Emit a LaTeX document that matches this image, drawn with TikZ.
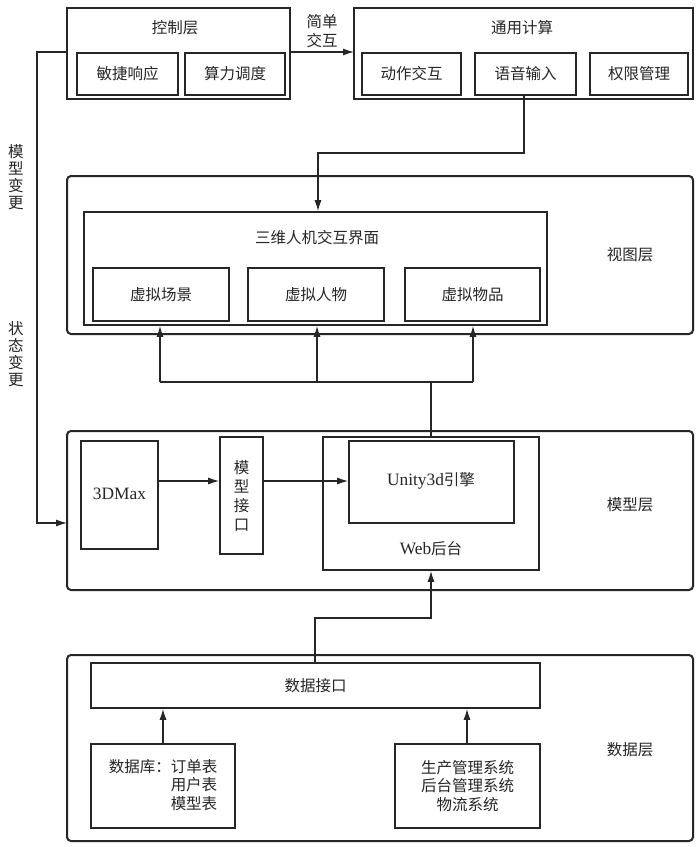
\documentclass[tikz,border=0pt]{standalone}
\usepackage{fontspec}
\setmainfont{Noto Sans CJK SC}
\newfontfamily\lat[Scale=1.12]{Liberation Serif}
\usetikzlibrary{arrows.meta}
\definecolor{ink}{HTML}{262626}
\begin{document}
\begin{tikzpicture}[x=1pt,y=-1pt,
  layer/.style={draw=ink, line width=2pt, rounded corners=4pt, inner sep=0pt},
  outer/.style={draw=ink, line width=2pt, inner sep=0pt},
  box/.style={draw=ink, line width=1.7pt, inner sep=0pt, align=center, text=ink},
  txt/.style={inner sep=0pt, align=center, text=ink},
  conn/.style={draw=ink, line width=1.2pt, -{Latex[length=11pt,width=7pt]}},
  plain/.style={draw=ink, line width=1.2pt},
  font=\fontsize{15.5}{18.5}\selectfont]
\useasboundingbox (0,0) rectangle (700,847);
\fill[white] (0,0) rectangle (700,847);

% ---------- top row ----------
\node[outer, minimum width=223pt, minimum height=91pt] (ctrl) at (178.5,53.5) {};
\node[txt] (ctrlT) at (175,28) {控制层};
\node[box, minimum width=101pt, minimum height=42pt] (mj) at (127.5,74) {敏捷响应};
\node[box, minimum width=100pt, minimum height=42pt] (sl) at (235,74) {算力调度};

\node[outer, minimum width=339pt, minimum height=91pt] (gen) at (523.5,53.5) {};
\node[txt] (genT) at (522,28) {通用计算};
\node[box, minimum width=99pt, minimum height=42pt] (dz) at (411.5,74) {动作交互};
\node[box, minimum width=101pt, minimum height=42pt] (yy) at (525.5,74) {语音输入};
\node[box, minimum width=98pt, minimum height=42pt] (qx) at (639,74) {权限管理};

\node[txt] (jd) at (322,31) {简单\\交互};

% ---------- left labels ----------
\node[txt, font=\fontsize{15.5}{17}\selectfont] (mxbg) at (16,177) {模\\型\\变\\更};
\node[txt, font=\fontsize{15.5}{17}\selectfont] (ztbg) at (16,354) {状\\态\\变\\更};

% ---------- view layer ----------
\node[layer, minimum width=626pt, minimum height=158pt] (view) at (380,255) {};
\node[txt] (viewT) at (630,255) {视图层};
\node[box, minimum width=463pt, minimum height=113pt] (sw) at (315.5,268.5) {};
\node[txt] (swT) at (317,238) {三维人机交互界面};
\node[box, minimum width=136pt, minimum height=53pt] (xc) at (161,294.5) {虚拟场景};
\node[box, minimum width=136pt, minimum height=53pt] (xr) at (316,294.5) {虚拟人物};
\node[box, minimum width=135pt, minimum height=53pt] (xw) at (472.5,294.5) {虚拟物品};

% ---------- model layer ----------
\node[layer, minimum width=626pt, minimum height=159pt] (model) at (380,510.5) {};
\node[txt] (modelT) at (630,505) {模型层};
\node[box, minimum width=77pt, minimum height=108pt] (max) at (119.5,495) {};
\node[txt] (maxT) at (119.5,494) {\lat 3DMax};
\node[box, minimum width=43pt, minimum height=117pt, font=\fontsize{15.5}{19}\selectfont] (mi) at (241.5,495.5) {模\\型\\接\\口};
\node[box, minimum width=216pt, minimum height=133pt] (web) at (431,503.5) {};
\node[txt] (webT) at (431,549) {{\lat Web}后台};
\node[box, minimum width=165pt, minimum height=82pt] (unity) at (431.5,482) {};
\node[txt] (unityT) at (431,481) {{\lat Unity3d}引擎};

% ---------- data layer ----------
\node[layer, minimum width=626pt, minimum height=186pt] (data) at (380,748) {};
\node[txt] (dataT) at (630,750) {数据层};
\node[box, minimum width=449pt, minimum height=45pt] (di) at (315.5,685.5) {数据接口};
\node[box, minimum width=144pt, minimum height=84pt] (db) at (163,786) {};
\node[txt, align=left] (dbT) at (163,785) {数据库：订单表\\\hphantom{数据库：}用户表\\\hphantom{数据库：}模型表};
\node[box, minimum width=145pt, minimum height=84pt] (sys) at (467.5,786) {生产管理系统\\后台管理系统\\物流系统};

% ---------- connectors ----------
\coordinate (c1) at (290,52);
\coordinate (c2) at (354,52);
\draw[conn] (c1) -- (c2);

\coordinate (l1) at (67,52);
\coordinate (l2) at (37,52);
\coordinate (l3) at (37,523);
\coordinate (l4) at (67,523);
\draw[conn] (l1) -- (l2) -- (l3) -- (l4);

\coordinate (y1) at (524,153);
\coordinate (y2) at (318,153);
\draw[conn] (yy.south -| y1) -- (y1) -- (y2) -- (y2 |- sw.north);

\coordinate (h1) at (160,382);
\coordinate (h2) at (317,382);
\coordinate (h3) at (473,382);
\coordinate (hv) at (431,382);
\draw[plain] (h1) -- (h3);
\draw[plain] (hv) -- (hv |- web.north);
\draw[conn] (h1) -- (h1 |- sw.south);
\draw[conn] (h2) -- (h2 |- sw.south);
\draw[conn] (h3) -- (h3 |- sw.south);

\coordinate (m1) at (158,481);
\draw[conn] (m1) -- (m1 -| mi.west);
\coordinate (m2) at (263,481);
\draw[conn] (m2) -- (m2 -| unity.west);

\coordinate (d1) at (315,618);
\coordinate (d2) at (431,618);
\draw[conn] (d1 |- di.north) -- (d1) -- (d2) -- (d2 |- web.south);

\coordinate (a1) at (163,744);
\coordinate (a2) at (467,744);
\draw[conn] (a1) -- (a1 |- di.south);
\draw[conn] (a2) -- (a2 |- di.south);
\end{tikzpicture}
\end{document}
